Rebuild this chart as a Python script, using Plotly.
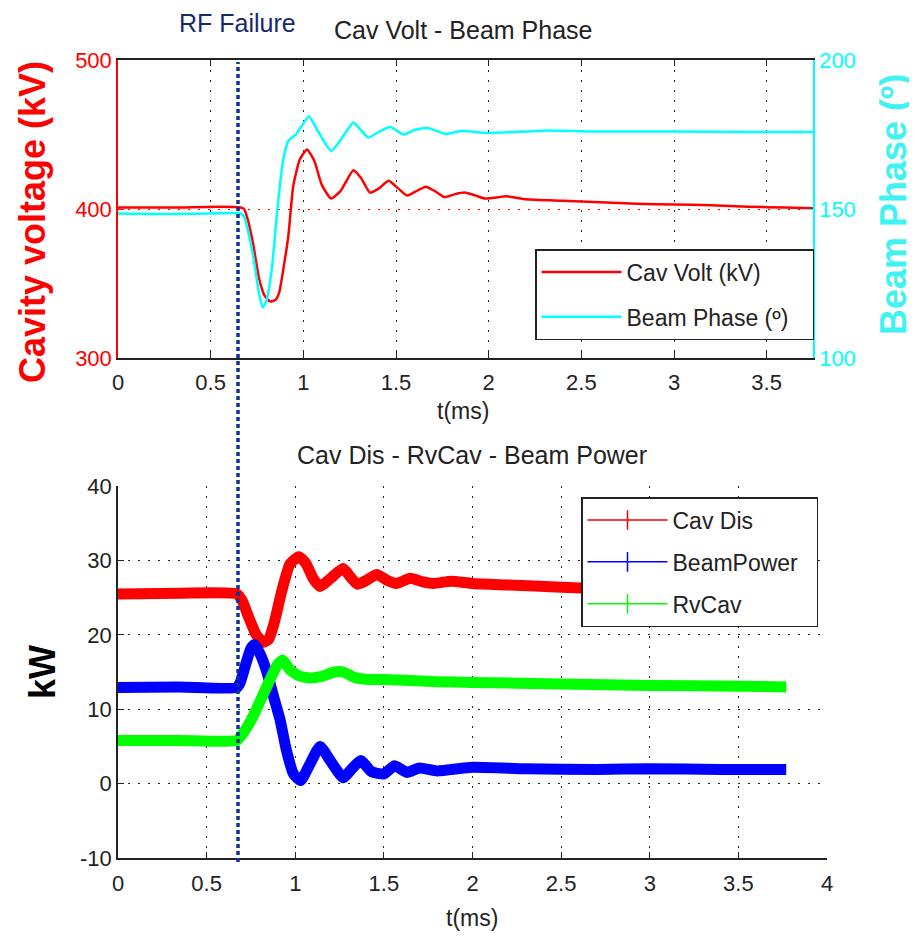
import plotly.graph_objects as go

# ---------------- data ----------------
# Top panel: Cavity voltage (kV) and Beam phase (deg) vs time (ms)
volt_t = [0, 0.30, 0.55, 0.66, 0.68, 0.70, 0.73, 0.76, 0.79, 0.82, 0.85, 0.87, 0.89, 0.92, 0.945,
          0.98, 1.02, 1.06, 1.10, 1.15, 1.20, 1.27, 1.31, 1.36, 1.41, 1.46, 1.51, 1.56, 1.61, 1.66,
          1.71, 1.76, 1.82, 1.87, 1.93, 1.98, 2.10, 2.20, 2.40, 2.60, 2.80, 3.00, 3.20, 3.40, 3.60, 3.75]
volt_kv = [401, 401, 401.5, 401, 400, 393, 376, 354, 342, 338, 339, 344, 358, 383, 415,
           433, 440, 432, 416, 407, 412, 426, 421, 411, 414, 419, 414, 409, 412, 415,
           412, 408, 410, 411, 409, 407, 408.5, 406.5, 405.5, 404.5, 403.5, 403, 402.5, 401.5, 401, 400.5]

phase_t = [0, 0.30, 0.55, 0.66, 0.68, 0.70, 0.73, 0.76, 0.78, 0.80, 0.83, 0.86, 0.89, 0.92, 0.96,
           1.03, 1.08, 1.15, 1.21, 1.27, 1.31, 1.35, 1.41, 1.47, 1.54, 1.60, 1.67, 1.77, 1.85, 2.00,
           2.30, 2.60, 3.00, 3.40, 3.75]
phase_deg = [148.5, 148.3, 148.6, 148.5, 147.5, 143, 134, 122, 117, 119, 130, 150, 166, 173, 175,
             181, 176, 169.5, 174, 179, 176.5, 174, 176, 177.5, 175, 176.5, 177.2, 175.2, 176.2, 175.5,
             176.3, 176, 176, 175.8, 175.8]

# Bottom panel: powers (kW) vs time (ms)
cavdis_t = [0, 0.35, 0.67, 0.70, 0.74, 0.78, 0.82, 0.85, 0.88, 0.925, 0.97, 1.02, 1.06, 1.10, 1.14,
            1.20, 1.27, 1.31, 1.35, 1.40, 1.46, 1.52, 1.57, 1.65, 1.72, 1.78, 1.88, 2.0, 2.2, 2.5,
            2.8, 3.1, 3.4, 3.77]
cavdis_kw = [25.5, 25.6, 25.5, 24.6, 22.2, 20.0, 19.0, 19.4, 21.5, 26.0, 29.5, 30.5, 29.6, 27.6, 26.5,
             27.6, 28.9, 27.8, 26.8, 27.3, 28.1, 27.3, 26.9, 27.6, 27.1, 26.9, 27.2, 26.9, 26.7, 26.4,
             26.1, 25.9, 25.8, 25.8]

beam_t = [0, 0.35, 0.67, 0.69, 0.72, 0.75, 0.77, 0.80, 0.84, 0.88, 0.915, 0.95, 0.99, 1.03, 1.08,
          1.14, 1.20, 1.27, 1.32, 1.37, 1.43, 1.50, 1.56, 1.63, 1.70, 1.80, 2.0, 2.3, 2.7, 3.0,
          3.4, 3.77]
beam_kw = [12.9, 13.0, 12.9, 13.6, 16.0, 18.2, 18.7, 17.5, 15.0, 11.5, 8.5, 4.5, 1.3, 0.4, 2.5,
           5.0, 3.0, 0.8, 2.0, 3.1, 1.6, 1.3, 2.4, 1.5, 2.1, 1.7, 2.2, 2.0, 1.9, 2.0,
           1.9, 1.9]

rvcav_t = [0, 0.35, 0.67, 0.70, 0.75, 0.80, 0.85, 0.90, 0.93, 0.97, 1.02, 1.08, 1.15, 1.22, 1.27,
           1.33, 1.41, 1.5, 1.8, 2.0, 2.5, 3.0, 3.5, 3.77]
rvcav_kw = [5.8, 5.8, 5.8, 6.6, 8.5, 11.0, 13.6, 16.0, 16.6, 15.3, 14.5, 14.2, 14.4, 15.0, 15.0,
            14.3, 14.0, 14.0, 13.7, 13.6, 13.4, 13.2, 13.1, 13.0]

top_xticks = [0, 0.5, 1, 1.5, 2, 2.5, 3, 3.5]
bot_xticks = [0, 0.5, 1, 1.5, 2, 2.5, 3, 3.5, 4]
volt_ticks = [300, 400, 500]
phase_ticks = [100, 150, 200]
kw_ticks = [-10, 0, 10, 20, 30, 40]
kw_ticklabels = ["-10", "0", "10", "20", "30", "40"]

# ---------------- styling ----------------
VIEW_W, VIEW_H = 917, 937
OFF = 8                       # page body margin of the html page
W, H = VIEW_W - OFF, VIEW_H - OFF
FONT = "Liberation Sans, Arial, sans-serif"
RED, CYAN, BLUE, GREEN = "#FF0000", "#00FFFF", "#0000FF", "#00FF00"
GRID = "#222222"
DOTS = "2px,8px"
NB = "\u00a0"

def px(xp):
    return (xp - OFF) / W

def py(yp):
    return 1 - (yp - OFF) / H

fig = go.Figure()

# top panel
fig.add_trace(go.Scatter(x=phase_t, y=phase_deg, name="Beam Phase (º)" + NB * 3, mode="lines",
                         line=dict(color=CYAN, width=2.5, shape="spline", smoothing=0.5),
                         xaxis="x", yaxis="y2", legend="legend", legendrank=2, legendgroup="bp"))
fig.add_trace(go.Scatter(x=volt_t, y=volt_kv, name="Cav Volt (kV)", mode="lines",
                         line=dict(color=RED, width=2.5, shape="spline", smoothing=0.5),
                         xaxis="x", yaxis="y", legend="legend", legendrank=1, legendgroup="cv"))

# bottom panel (thick noisy-looking bands)
for t, v, c in [(cavdis_t, cavdis_kw, RED), (beam_t, beam_kw, BLUE), (rvcav_t, rvcav_kw, GREEN)]:
    fig.add_trace(go.Scatter(x=t, y=v, mode="lines",
                             line=dict(color=c, width=11, shape="spline", smoothing=0.5),
                             xaxis="x2", yaxis="y3", showlegend=False))
# legend entries for bottom panel
for i, (name, c) in enumerate([("Cav Dis", RED), ("BeamPower" + NB * 2, BLUE), ("RvCav", GREEN)]):
    fig.add_trace(go.Scatter(x=[None], y=[None], name=name, mode="lines+markers",
                             line=dict(color=c, width=1.5),
                             marker=dict(symbol="line-ns-open", size=14, color=c,
                                         line=dict(color=c, width=1.5)),
                             xaxis="x2", yaxis="y3", legend="legend2", legendgroup="g%d" % i,
                             legendrank=i + 1))

tick_font = dict(family=FONT, size=22)

fig.update_layout(
    template="none",
    width=W, height=H, margin=dict(l=0, r=0, t=0, b=0, autoexpand=False),
    paper_bgcolor="white", plot_bgcolor="rgba(0,0,0,0)",
    font=dict(family=FONT, size=22, color="#222"),
    xaxis=dict(domain=[px(118), px(813)], range=[0, 3.75], anchor="y",
               tickvals=top_xticks, ticks="inside", ticklen=6, tickcolor="#222",
               showline=True, linecolor="#222", linewidth=1.5, mirror="ticks",
               showgrid=True, gridcolor=GRID, griddash=DOTS, gridwidth=1,
               zeroline=False, automargin=False, ticklabelstandoff=4,
               tickfont=dict(tick_font, color="#222")),
    yaxis=dict(domain=[py(358), py(60)], range=[300, 500], anchor="x",
               tickvals=volt_ticks, ticks="inside", ticklen=6, tickcolor=RED,
               showline=True, linecolor=RED, linewidth=1.5,
               showgrid=True, gridcolor=RED, griddash=DOTS, gridwidth=1,
               zeroline=False, automargin=False, tickfont=dict(tick_font, color=RED)),
    yaxis2=dict(range=[100, 200], overlaying="y", side="right", anchor="x",
                tickvals=phase_ticks, ticks="inside", ticklen=6, tickcolor=CYAN,
                showline=True, linecolor=CYAN, linewidth=1.5, showgrid=False,
                zeroline=False, automargin=False, tickfont=dict(tick_font, color=CYAN)),
    xaxis2=dict(domain=[px(118), px(827)], range=[0, 4], anchor="y3",
                tickvals=bot_xticks, ticks="inside", ticklen=6, tickcolor="#222",
                showline=True, linecolor="#222", linewidth=1.5,
                showgrid=True, gridcolor=GRID, griddash=DOTS, gridwidth=1,
                zeroline=False, automargin=False, ticklabelstandoff=5,
                tickfont=dict(tick_font, color="#222")),
    yaxis3=dict(domain=[py(858), py(486)], range=[-10, 40], anchor="x2",
                tickvals=kw_ticks, ticktext=kw_ticklabels, ticks="inside", ticklen=6,
                tickcolor="#222", showline=True, linecolor="#222", linewidth=1.5,
                showgrid=True, gridcolor=GRID, griddash=DOTS, gridwidth=1,
                zeroline=False, automargin=False, tickfont=dict(tick_font, color="#222")),
    legend=dict(x=px(535), y=py(249), xanchor="left", yanchor="top",
                bgcolor="white", bordercolor="#222", borderwidth=1.5,
                font=dict(family=FONT, size=23, color="#222"),
                itemwidth=80, tracegroupgap=12, traceorder="grouped"),
    legend2=dict(x=px(581), y=py(497), xanchor="left", yanchor="top",
                 bgcolor="white", bordercolor="#222", borderwidth=1.5,
                 font=dict(family=FONT, size=23, color="#222"),
                 itemwidth=80, tracegroupgap=9, traceorder="grouped"),
)

annotations = [
    dict(text="Cav Volt - Beam Phase", x=px(463), y=py(30), font=dict(size=25, color="#222")),
    dict(text="Cav Dis - RvCav - Beam Power", x=px(472), y=py(455), font=dict(size=25, color="#222")),
    dict(text="t(ms)", x=px(463), y=py(411), font=dict(size=23, color="#222")),
    dict(text="t(ms)", x=px(472), y=py(918), font=dict(size=23, color="#222")),
    dict(text="RF Failure", x=px(237), y=py(23), font=dict(size=25, color="#14296e")),
    dict(text="<b>Cavity voltage (kV)</b>", x=px(33), y=py(222), textangle=-90,
         font=dict(size=36, color=RED)),
    dict(text="<b>Beam Phase (º)</b>", x=px(893), y=py(205), textangle=-90,
         font=dict(size=36, color="#40F2F2")),
    dict(text="<b>kW</b>", x=px(42), y=py(672), textangle=-90,
         font=dict(size=36, color="black")),
]
for a in annotations:
    a.update(xref="paper", yref="paper", showarrow=False, xanchor="center", yanchor="middle")
    a["font"]["family"] = FONT
fig.update_layout(annotations=annotations)

# RF failure marker spanning both panels
fig.add_shape(type="line", xref="paper", yref="paper", x0=px(238), x1=px(238),
              y0=py(862), y1=py(62), line=dict(color="#0a3590", width=3.5, dash="4px,3px"))

fig.write_html("out.html")
